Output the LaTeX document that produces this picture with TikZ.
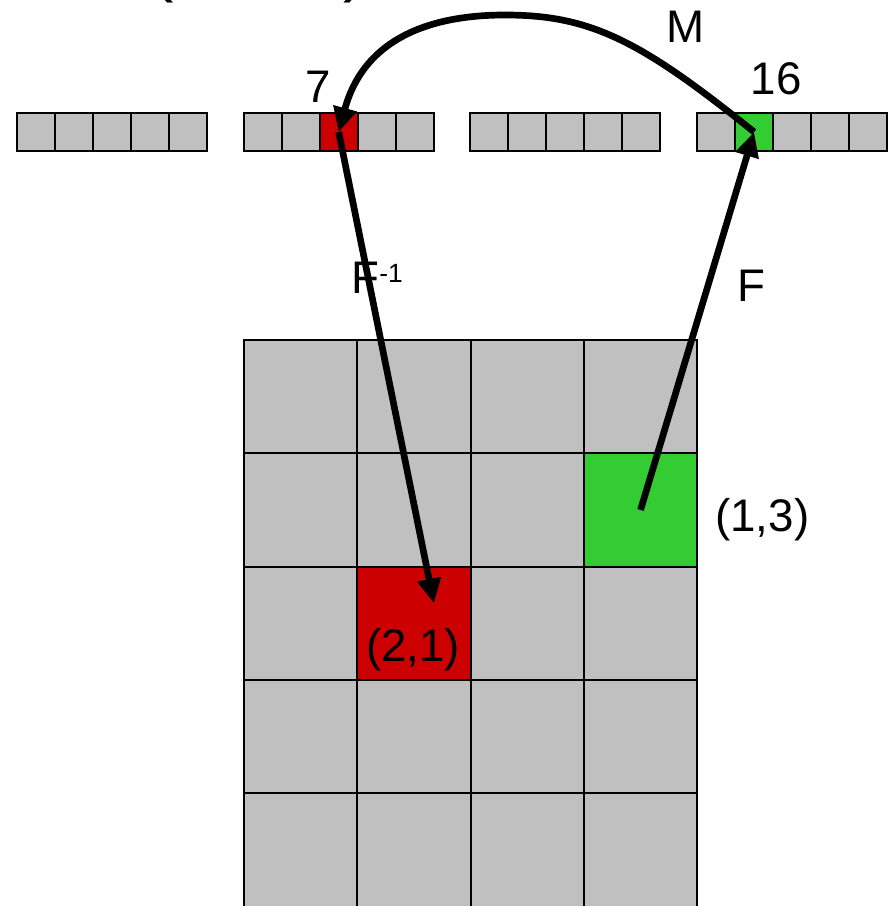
\documentclass[tikz,border=0pt]{standalone}
\usepackage{fontspec}
\setmainfont{Liberation Sans}
\usepackage{xcolor}
\usepackage{tikz}
\usetikzlibrary{arrows.meta, positioning, calc}

\definecolor{cellgray}{HTML}{C0C0C0}
\definecolor{cellred}{HTML}{CC0000}
\definecolor{cellgreen}{HTML}{33CC33}

\tikzset{
  %% Cell of a linear strip
  scell/.style={
    rectangle, draw=black, fill=#1,
    minimum size=0.76cm, inner sep=0pt, outer sep=0pt,
    line width=1.1pt
  },
  scell/.default=cellgray,
  %% Cell of the 2D grid
  gcell/.style={
    rectangle, draw=black, fill=#1,
    minimum size=2.266cm, inner sep=0pt, outer sep=0pt,
    line width=1.1pt
  },
  gcell/.default=cellgray,
  %% Mapping arrow
  maparr/.style={-{Triangle[length=14pt,width=13pt]},
                 draw=black, line width=3.8pt},
  %% Labels
  lbl/.style={font=\fontsize{26}{31}\selectfont, inner sep=0pt, anchor=base},
}

\begin{document}
\begin{tikzpicture}[x=0.02cm, y=-0.02cm]
  \useasboundingbox (0,0) rectangle (888,906);

  %% Clipped title brackets
  \node[font=\fontsize{40}{48}\selectfont, inner sep=0pt, anchor=base west]
       (lparen) at (150,-11) {(};
  \node[font=\fontsize{40}{48}\selectfont, inner sep=0pt, anchor=base west]
       (rparen) at (343,-11) {)};

  %% Linear strips (4 blocks of 5)
  \foreach \i in {0,...,19}{
    \pgfmathtruncatemacro{\blk}{int(\i/5)}
    \pgfmathtruncatemacro{\pos}{mod(\i,5)}
    \def\clr{cellgray}
    \ifnum\i=7 \def\clr{cellred}\fi
    \ifnum\i=16 \def\clr{cellgreen}\fi
    \node[scell=\clr] (s\i) at ({17+\blk*226.7+(\pos+0.5)*38}, 132) {};
  }

  %% 2D grid, 5 rows x 4 columns
  \foreach \r in {0,...,4}
    \foreach \c in {0,...,3}{
      \def\clr{cellgray}
      \ifnum\r\c=21 \def\clr{cellred}\fi
      \ifnum\r\c=13 \def\clr{cellgreen}\fi
      \node[gcell=\clr] (g\r\c) at ({244+(\c+0.5)*113.3}, {340+(\r+0.5)*113.3}) {};
    }

  %% Index labels
  \node[lbl] (idx7)  at (318,102) {7};
  \node[lbl] (idx16) at (776,94)  {16};
  \node[lbl, anchor=base west] (lblpa) at (715,531) {(1,3)};
  \node[lbl] (lblpb) at (413,661) {(2,1)};

  %% F : grid -> strip
  \draw[maparr] (g13.center) -- (s16.center);
  \node[lbl] (lblF) at (751,301) {F};

  %% F^{-1} : strip -> grid
  \draw[maparr] (s7.center) -- ($(g21.center)+(20,-20)$);
  \node[lbl, anchor=base west] (lblFinv) at (351,293)
       {F\raisebox{6pt}{\fontsize{15}{18}\selectfont -1}};

  %% M : strip -> strip
  \draw[maparr] (s16.center) .. controls (640,40) and (590,15) .. (505,15)
       .. controls (420,15) and (362,45) .. (s7.center);
  \node[lbl] (lblM) at (686,42) {M};

\end{tikzpicture}
\end{document}
